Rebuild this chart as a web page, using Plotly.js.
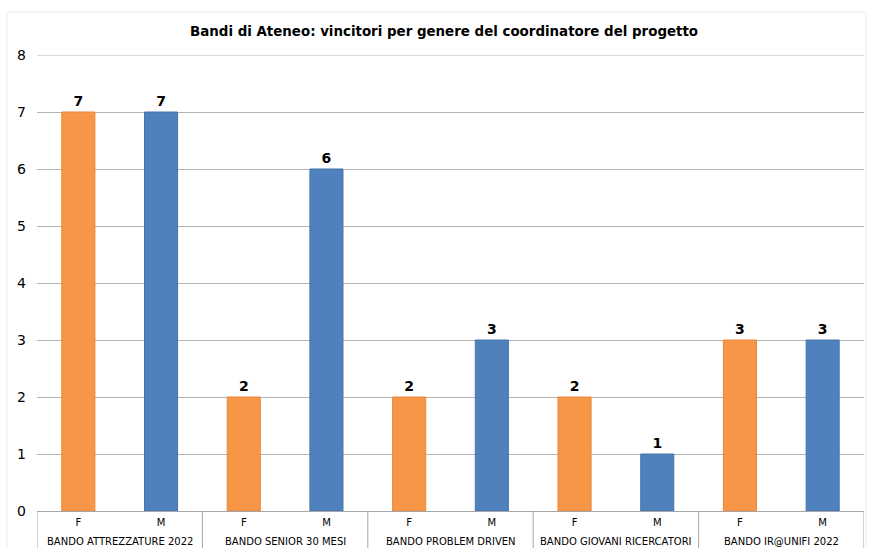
<!DOCTYPE html>
<html><head><meta charset="utf-8">
<script src="https://cdn.plot.ly/plotly-3.0.1.min.js"></script>
<style>html,body{margin:0;padding:0;background:#fff}#chart{width:869px;height:548px}</style>
</head><body><div id="chart"></div>
<script>
const groups = ["BANDO ATTREZZATURE 2022","BANDO ATTREZZATURE 2022","BANDO SENIOR 30 MESI","BANDO SENIOR 30 MESI","BANDO PROBLEM DRIVEN","BANDO PROBLEM DRIVEN","BANDO GIOVANI RICERCATORI","BANDO GIOVANI RICERCATORI","BANDO IR@UNIFI 2022","BANDO IR@UNIFI 2022"];
const genders = ["F","M","F","M","F","M","F","M","F","M"];
const values = [7,7,2,6,2,3,2,1,3,3];
const yTicks = [0,1,2,3,4,5,6,7,8];
const colorF = "#F79646", colorM = "#4F81BD";
const lineF = "#E8863A", lineM = "#4674AC";

const keys = groups.map((g, i) => g + "|" + genders[i]);
const groupNames = groups.filter((g, i) => groups.indexOf(g) === i);
const yMax = yTicks[yTicks.length - 1];

const trace = {
  type: "bar",
  x: keys,
  y: values,
  width: 0.4,
  marker: {
    color: genders.map(g => g === "F" ? colorF : colorM),
    line: {color: genders.map(g => g === "F" ? lineF : lineM), width: 1}
  },
  text: values.map(String),
  textposition: "outside",
  textfont: {family: "DejaVu Sans", size: 14, color: "#000", weight: "bold"},
  cliponaxis: false,
  hoverinfo: "none"
};

const annotations = groupNames.map(g => {
  const idx = groups.map((v, i) => v === g ? i : -1).filter(i => i >= 0);
  const center = (idx[0] + idx[idx.length - 1]) / 2;
  return {text: g, x: center, xref: "x", y: -0.0658, yref: "paper",
    xanchor: "center", yanchor: "middle", showarrow: false,
    font: {family: "DejaVu Sans", size: 10, color: "#000"}};
});
const bounds = [-0.5];
groupNames.forEach(g => { bounds.push(groups.lastIndexOf(g) + 0.5); });
const shapes = bounds.map(b => ({
  type: "line", xref: "x", yref: "paper", x0: b, x1: b, y0: 0, y1: -0.09,
  line: {color: "#a6a6a6", width: 1}
}));
// top gridline (plotly hides gridlines at the very edge of the range)
shapes.push({type: "line", xref: "paper", yref: "y", x0: 0, x1: 1, y0: yMax, y1: yMax,
  line: {color: "#b3b3b3", width: 1}, layer: "below"});
shapes.push({
  type: "rect", xref: "paper", yref: "paper",
  x0: -0.0363, x1: 1.0024, y0: -0.1, y1: 1.094,
  line: {color: "#ececec", width: 1}, fillcolor: "rgba(0,0,0,0)", layer: "below"
});

const layout = {
  width: 869, height: 548,
  margin: {l: 37, r: 5, t: 55, b: 37},
  paper_bgcolor: "#fff", plot_bgcolor: "#fff",
  font: {family: "DejaVu Sans", color: "#000"},
  title: {text: "<b>Bandi di Ateneo: vincitori per genere del coordinatore del progetto</b>",
    font: {family: "DejaVu Sans", size: 13.4, color: "#000"},
    x: 0.511, xanchor: "center", xref: "container", y: 0.943, yanchor: "middle", yref: "container"},
  showlegend: false,
  xaxis: {
    type: "category",
    tickvals: keys, ticktext: genders,
    showline: true, linecolor: "#a6a6a6", linewidth: 1,
    tickfont: {family: "DejaVu Sans", size: 10, color: "#000"},
    ticklabelstandoff: 2,
    showgrid: false, zeroline: false, range: [-0.5, 9.5]
  },
  yaxis: {
    range: [0, yMax], tickvals: yTicks,
    showgrid: true, gridcolor: "#b3b3b3", gridwidth: 1,
    zeroline: false, showline: false,
    tickfont: {family: "DejaVu Sans", size: 14, color: "#000"},
    ticklabelstandoff: 10
  },
  annotations: annotations,
  shapes: shapes
};

Plotly.newPlot("chart", [trace], layout, {displayModeBar: false, staticPlot: true});
</script></body></html>
